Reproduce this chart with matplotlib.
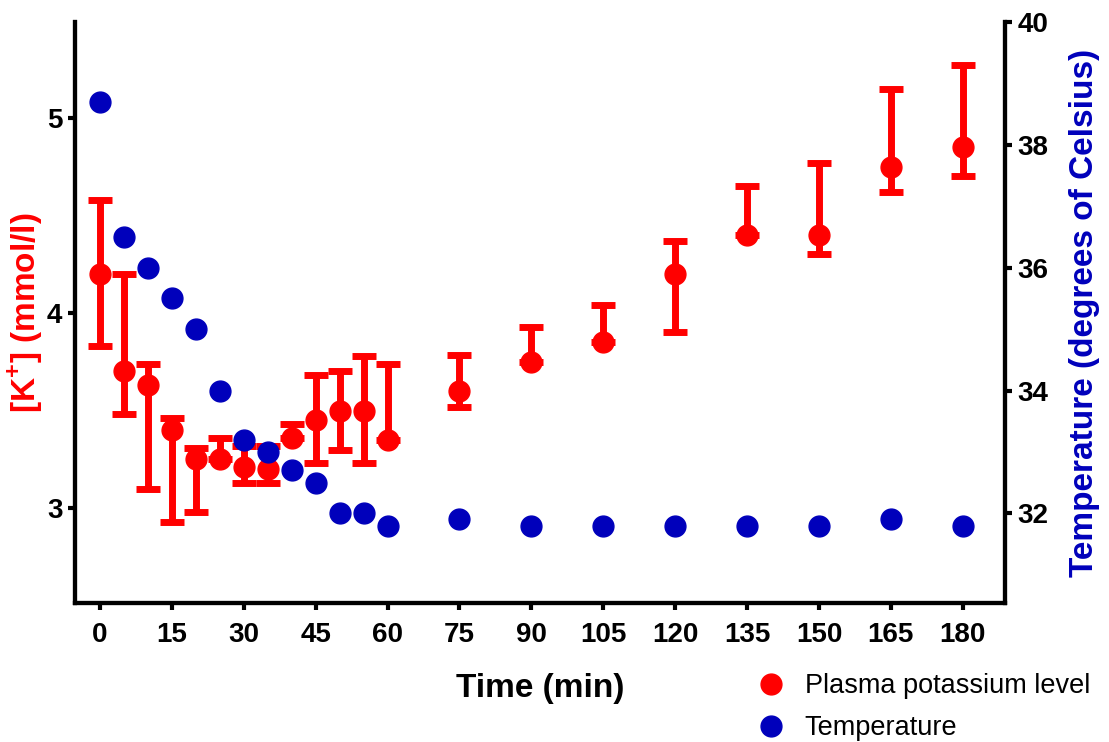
import numpy as np
import matplotlib
matplotlib.use("Agg")
import matplotlib.pyplot as plt

plt.rcParams['font.family'] = ['Liberation Sans', 'DejaVu Sans']
plt.rcParams['mathtext.fontset'] = 'custom'
plt.rcParams['mathtext.rm'] = 'Liberation Sans:bold'
plt.rcParams['mathtext.bf'] = 'Liberation Sans:bold'

#Data
time_min = [0, 5, 10, 15, 20, 25, 30, 35, 40, 45, 50, 55, 60, 75, 90, 105, 120, 135, 150, 165, 180]
k_mean = [4.20, 3.70, 3.63, 3.40, 3.25, 3.25, 3.21, 3.20, 3.36, 3.45, 3.50, 3.50, 3.35, 3.60, 3.75, 3.85, 4.20, 4.40, 4.40, 4.75, 4.85]
k_upper = [4.58, 4.20, 3.74, 3.46, 3.31, 3.36, 3.32, 3.32, 3.43, 3.68, 3.70, 3.78, 3.74, 3.785, 3.93, 4.04, 4.37, 4.65, 4.77, 5.15, 5.27]
k_lower = [3.83, 3.48, 3.10, 2.93, 2.98, 3.25, 3.13, 3.13, 3.36, 3.23, 3.30, 3.23, 3.35, 3.52, 3.75, 3.85, 3.90, 4.40, 4.30, 4.62, 4.70]
temp_c = [38.7, 36.5, 36.0, 35.5, 35.0, 34.0, 33.2, 33.0, 32.7, 32.5, 32.0, 32.0, 31.8, 31.9, 31.8, 31.8, 31.8, 31.8, 31.8, 31.9, 31.8]

x_ticks = [0, 15, 30, 45, 60, 75, 90, 105, 120, 135, 150, 165, 180]
k_ticks = [3, 4, 5]
temp_ticks = [32, 34, 36, 38, 40]

RED = "#ff0000"
BLUE = "#0000bb"

fig = plt.figure(figsize=(11.09, 7.42), dpi=100)
ax = fig.add_axes([0.0676, 0.1873, 0.8386, 0.7831])

k_mean = np.array(k_mean)
yerr = [k_mean - np.array(k_lower), np.array(k_upper) - k_mean]
ax.errorbar(time_min, k_mean, yerr=yerr, fmt='o', color=RED, ms=15,
            elinewidth=5, capsize=8.6, capthick=5, label="Plasma potassium level")

ax.set_xlim(-5.2, 188.8)
ax.set_ylim(2.513, 5.492)
ax.set_xticks(x_ticks)
ax.set_yticks(k_ticks)

ax2 = ax.twinx()
ax2.plot(time_min, temp_c, 'o', color=BLUE, ms=15, label="Temperature")
ax2.set_ylim(30.54, 40.0)
ax2.set_yticks(temp_ticks)

for a in (ax, ax2):
    for s in a.spines.values():
        s.set_linewidth(3)
    a.spines['top'].set_visible(False)
    a.tick_params(width=3, length=5, labelsize=20, pad=4)
    for lbl in a.get_xticklabels() + a.get_yticklabels():
        lbl.set_fontweight('bold')
ax.tick_params(axis='x', pad=9)

ax.set_xlabel("Time (min)", fontsize=24, fontweight='bold', labelpad=18)
ax.set_ylabel("[K$^{+}$] (mmol/l)", fontsize=24, fontweight='bold', color=RED)
ax.yaxis.set_label_coords(-0.032, 0.5)
ax2.set_ylabel("Temperature (degrees of Celsius)", fontsize=24, fontweight='bold', color=BLUE, labelpad=15)

h1 = plt.Line2D([], [], marker='o', ls='none', color=RED, ms=15)
h2 = plt.Line2D([], [], marker='o', ls='none', color=BLUE, ms=15)
fig.legend([h1, h2], ["Plasma potassium level", "Temperature"], loc='center left',
           bbox_to_anchor=(0.683, 0.047), frameon=False, fontsize=19.5,
           handlelength=1.0, handletextpad=0.75, labelspacing=0.6,
           borderpad=0, borderaxespad=0)

fig.savefig("out.png", dpi=100)
